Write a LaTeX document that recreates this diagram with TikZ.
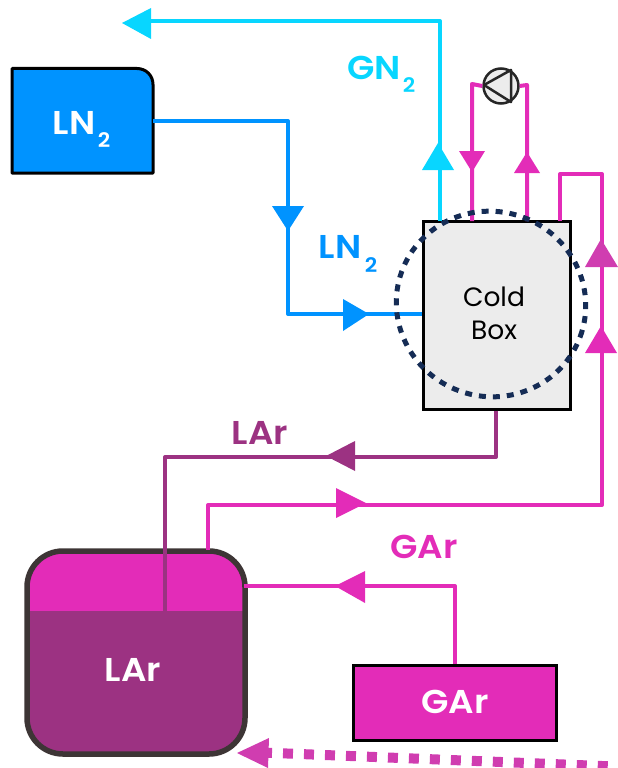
\documentclass[tikz,border=0pt]{standalone}
\usepackage{fontspec}
\setmainfont{Poppins}
\newfontfamily\semi{Poppins SemiBold}[FakeStretch=1.08]
\usetikzlibrary{calc}
\definecolor{cyanC}{HTML}{08D6FF}
\definecolor{blueC}{HTML}{0093FF}
\definecolor{magC}{HTML}{E32CB8}
\definecolor{magB}{HTML}{D03DB0}
\definecolor{purC}{HTML}{9C3282}
\definecolor{greyC}{HTML}{ECECEC}
\definecolor{navyC}{HTML}{152C55}
\definecolor{tankC}{HTML}{3D3535}
\tikzset{
  pipe/.style={line width=4pt,line join=round},
  lbl/.style={font=\fontsize{33}{35}\selectfont\semi,inner sep=0pt},
  cbox/.style={draw=black,line width=3pt,rectangle,minimum width=147pt,minimum height=188pt,inner sep=0pt},
  sub2/.style={font=\fontsize{20}{21}\selectfont\semi,inner sep=0pt},
}
\begin{document}
\begin{tikzpicture}[x=1pt,y=-1pt]
\useasboundingbox (0,0) rectangle (618,768);
% tank
\begin{scope}
\clip[rounded corners=36pt] (27,551) rectangle (245,754);
\fill[magC] (27,551) rectangle (245,611);
\fill[purC] (27,611) rectangle (245,754);
\end{scope}
\draw[tankC,line width=5.5pt,rounded corners=36pt] (27,551) rectangle (245,754);
\node[inner sep=0pt,minimum width=218pt,minimum height=203pt] (tank) at (136,652.5) {};
\node[lbl,text=white] (tanklabel) at (133,670) {LAr};
% boxes
\node[cbox,fill=greyC] (cold) at (496.5,315) {};
\node[font=\fontsize{26.5}{34}\selectfont,align=center,inner sep=0pt] (coldlabel) at (494,313) {Cold\\[-1pt]Box};
\node[draw=black,line width=3pt,fill=magC,minimum width=203pt,minimum height=75pt,inner sep=0pt] (garbox) at (455,702.5) {};
\node[lbl,text=white] (garlabel) at (455,702) {GAr};
\draw[black,fill=blueC,line width=3pt,line join=round] (12,68.5) -- (137,68.5) .. controls (146,68.5) and (153,75.5) .. (153,84.5) -- (153,173) -- (12,173) -- cycle;
\node[inner sep=0pt,minimum width=141pt,minimum height=105pt] (lnbox) at (82.5,120.5) {};
\node[lbl,text=white] (lnt) at (74,123) {LN};
\node[sub2,text=white] (lnts) at (104,140) {2};
% pump
\node[circle,draw=black!85,fill=greyC,line width=2.5pt,minimum size=35pt,inner sep=0pt] (pump) at (501,86) {};
\draw[black!85,line width=2.5pt,line join=round] (484,85) -- (511,70) -- (511,102) -- cycle;
% coordinates
\coordinate (gnend) at (150,21);
\coordinate (gntop) at (440,21);
\coordinate (gnbot) at (440,221);
\coordinate (pl) at (472,221);
\coordinate (pr) at (527,221);
\coordinate (ll) at (560,221);
% cyan
\draw[pipe,cyanC] (gnbot) -- (gntop) -- (gnend);
\fill[cyanC] (122,23) -- (151,8) -- (151,39) -- cycle;
\fill[cyanC] (438,143) -- (422,170) -- (454,170) -- cycle;
% pump loop
\draw[pipe,magC] (pl) -- (472,84) -- (pump.west);
\draw[pipe,magC] (pr) -- (527,85) -- (pump.east);
\fill[magC] (472,172) -- (459,151) -- (485,151) -- cycle;
\fill[magC] (527,152) -- (514,173) -- (540,173) -- cycle;
% LN2
\draw[pipe,blueC] (lnbox.east |- 0,121) -- (288,121) -- (288,314) -- (cold.west |- 0,314);
\fill[blueC] (288,231) -- (272,206) -- (304,206) -- cycle;
\fill[blueC] (369,314) -- (343,299) -- (343,331) -- cycle;
% LAr
\coordinate (tankin) at (165,611);
\draw[pipe,purC] (cold.south -| 496,0) -- (496,457) -- (165,457) -- (tankin);
\fill[purC] (326,456) -- (355,441) -- (355,471) -- cycle;
% GAr return
\coordinate (tankgas) at (208,550);
\draw[pipe,magC] (tankgas) -- (208,505) -- (602,505) -- (602,174) -- (560,174) -- (ll);
\fill[magC] (366,503) -- (336,488) -- (336,518) -- cycle;
\fill[magB] (601,239) -- (585,267) -- (618,267) -- cycle;
\fill[magC] (601,326) -- (585,353) -- (617,353) -- cycle;
% GAr feed
\draw[pipe,magC] (garbox.north -| 455,0) -- (455,586) -- (244,586);
\fill[magC] (335,586) -- (365,571) -- (365,603) -- cycle;
% dotted feed
\coordinate (dotend) at (640,767.5);
\coordinate (dotstart) at (262,752.5);
\draw[magB,line width=10pt,dash pattern=on 10pt off 11pt] (dotstart) -- (dotend);
\fill[magB] (237,753) -- (269,738) -- (268,768) -- cycle;
% dotted ellipse
\draw[navyC,line width=5pt,dash pattern=on 7pt off 7pt,rotate around={-20:(491,304)}] (491,304) ellipse[x radius=95pt,y radius=92.5pt];
% labels
\node[lbl,text=cyanC] (gnl) at (374,68) {GN};
\node[sub2,text=cyanC] (gnls) at (409,85) {2};
\node[lbl,text=blueC] (lnl) at (340,247) {LN};
\node[sub2,text=blueC] (lnls) at (371,265) {2};
\node[lbl,text=purC] (larl) at (260,433) {LAr};
\node[lbl,text=magC] (garl) at (424,547) {GAr};
\end{tikzpicture}
\end{document}
